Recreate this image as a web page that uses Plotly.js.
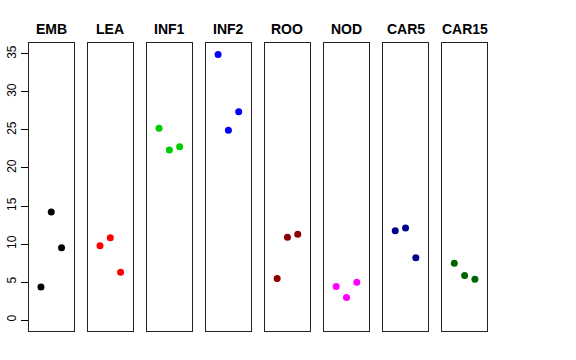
<!DOCTYPE html>
<html><head><meta charset="utf-8">
<script src="https://cdn.plot.ly/plotly-3.0.1.min.js"></script>
<style>body{margin:0;padding:0;background:#fff}</style>
</head><body><div id="chart" style="width:576px;height:360px"></div>
<script>
var tissues = ["EMB","LEA","INF1","INF2","ROO","NOD","CAR5","CAR15"];
var colors = ["#000000","#FF0000","#00CD00","#0000FF","#8B0000","#FF00FF","#00008B","#006400"];
var positions = [1,2,3];
var EMB   = [4.36, 14.2, 9.52];
var LEA   = [9.78, 10.83, 6.29];
var INF1  = [25.24, 22.36, 22.8];
var INF2  = [34.94, 24.98, 27.39];
var ROO   = [5.45, 10.88, 11.27];
var NOD   = [4.40, 2.96, 4.98];
var CAR5  = [11.74, 12.1, 8.2];
var CAR15 = [7.47, 5.85, 5.37];
var yTicks = [0,5,10,15,20,25,30,35];
var values = [EMB, LEA, INF1, INF2, ROO, NOD, CAR5, CAR15];

var W = 576, H = 360;
var left0 = 29, pw = 44.5, step = 59.05;
var panelTop = 43.3, panelBottom = 330.7;
var data = [], layout = {
  width: W, height: H, margin: {l:0,r:0,t:0,b:0},
  paper_bgcolor: "#fff", plot_bgcolor: "#fff", showlegend: false,
  font: {family: "Liberation Sans, Arial, sans-serif", color: "#000"},
  annotations: []
};
for (var i = 0; i < tissues.length; i++) {
  var n = i === 0 ? "" : String(i + 1);
  var x0 = left0 + i * step, x1 = x0 + pw;
  data.push({
    type: "scatter", mode: "markers", x: positions, y: values[i],
    xaxis: "x" + n, yaxis: "y" + n,
    marker: {color: colors[i], size: 7}, hoverinfo: "none"
  });
  layout["xaxis" + n] = {
    domain: [x0 / W, x1 / W], range: [-0.16, 4.16],
    showgrid: false, zeroline: false, showticklabels: false, ticks: "",
    showline: true, mirror: true, linecolor: "#222", linewidth: 1,
    anchor: "y" + n, fixedrange: true
  };
  layout["yaxis" + n] = {
    domain: [(H - panelBottom) / H, (H - panelTop) / H], range: [-1.4, 36.4],
    showgrid: false, zeroline: false,
    showticklabels: i === 0, ticks: i === 0 ? "outside" : "",
    tickvals: yTicks, ticktext: yTicks.map(String),
    ticklen: 7, tickcolor: "#000", tickwidth: 1, tickangle: -90,
    tickfont: {size: 12, color: "#000"},
    showline: true, mirror: true, linecolor: "#222", linewidth: 1,
    anchor: "x" + n, fixedrange: true
  };
  layout.annotations.push({
    text: "<b>" + tissues[i] + "</b>", xref: "paper", yref: "paper",
    x: (x0 + x1) / 2 / W, y: (H - 29) / H, xanchor: "center", yanchor: "middle",
    showarrow: false, font: {size: 14, color: "#000"}
  });
}
Plotly.newPlot("chart", data, layout, {displayModeBar: false, staticPlot: true});
</script></body></html>
